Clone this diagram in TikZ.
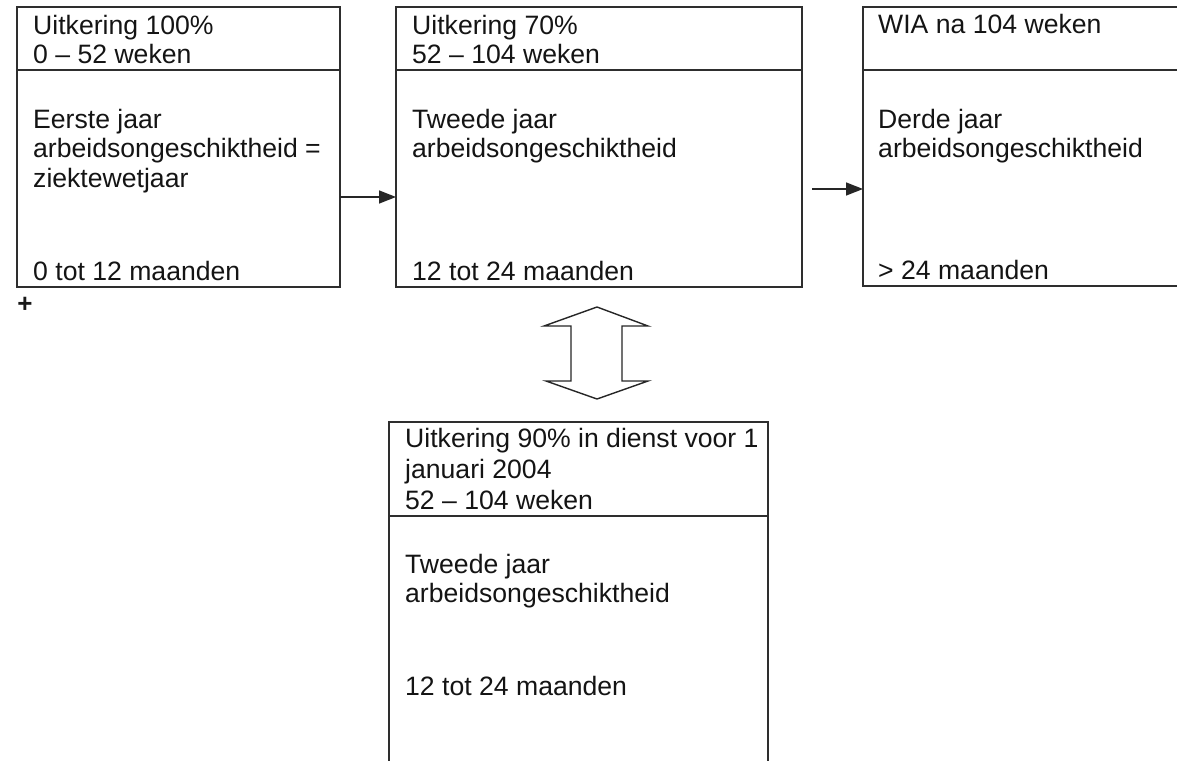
\documentclass[tikz,border=0pt]{standalone}
\usepackage{fontspec}
\setmainfont{Liberation Sans}
\usetikzlibrary{arrows.meta}
\begin{document}
\begin{tikzpicture}[x=1pt,y=-1pt,
  box/.style={draw=black!82,line width=1.4pt,inner sep=0pt,outer sep=0pt,anchor=north west},
  divider/.style={draw=black!82,line width=1.4pt},
  txt/.style={anchor=base west,inner sep=0pt,align=left,text=black!92,font=\fontsize{26.6}{29.5}\selectfont},
  conn/.style={draw=black!85,line width=1.5pt,-{Triangle[length=17pt,width=13pt]}},
  bigarrow/.style={draw=black!85,line width=1.4pt,fill=white,line join=miter}]
\useasboundingbox (0,0) rectangle (1177,760);
\clip (0,0) rectangle (1177,760);

% boxes
\node[box,minimum width=323pt,minimum height=280pt] (b1) at (17,7) {};
\node[box,minimum width=406pt,minimum height=280pt] (b2) at (396,7) {};
\node[box,minimum width=330pt,minimum height=279pt] (b3) at (863,7) {};
\node[box,minimum width=379pt,minimum height=350pt] (b4) at (389,422) {};

% dividers
\draw[divider] (b1.west |- 0,70) -- (b1.east |- 0,70);
\draw[divider] (b2.west |- 0,70) -- (b2.east |- 0,70);
\draw[divider] (b3.west |- 0,70) -- (b3.east |- 0,70);
\draw[divider] (b4.west |- 0,516) -- (b4.east |- 0,516);

% (multi-line nodes: base anchor = baseline of last line)
% box 1
\node[txt] (t1h) at (33,63.5) {Uitkering 100\%\\0 \textendash{} 52 weken};
\node[txt] (t1b) at (33,187) {Eerste jaar\\arbeidsongeschiktheid =\\ziektewetjaar};
\node[txt] (t1f) at (33,280) {0 tot 12 maanden};

% box 2
\node[txt] (t2h) at (412,63.5) {Uitkering 70\%\\52 \textendash{} 104 weken};
\node[txt] (t2b) at (412,157.5) {Tweede jaar\\arbeidsongeschiktheid};
\node[txt] (t2f) at (412,280) {12 tot 24 maanden};

% box 3
\node[txt] (t3h) at (878,34) {WIA na 104 weken};
\node[txt] (t3b) at (878,157.5) {Derde jaar\\arbeidsongeschiktheid};
\node[txt] (t3f) at (878,279) {> 24 maanden};

% box 4
\node[txt,font=\fontsize{26.6}{31}\selectfont] (t4h) at (405,509) {Uitkering 90\% in dienst voor 1\\januari 2004\\52 \textendash{} 104 weken};
\node[txt] (t4b) at (405,602.5) {Tweede jaar\\arbeidsongeschiktheid};
\node[txt] (t4f) at (405,695) {12 tot 24 maanden};

% plus sign
\node[inner sep=0pt,text=black!90,font=\bfseries\fontsize{26}{26}\selectfont] (plus) at (25,305) {+};

% arrows
\draw[conn] (b1.east |- 0,197) -- (b2.west |- 0,197);
\path (b2.east |- 0,189) ++(10,0) coordinate (a2s);
\draw[conn] (a2s) -- (b3.west |- 0,189);

% double arrow
\draw[bigarrow] (597,307) -- (648,326) -- (622,326) -- (622,381) -- (648,381)
  -- (597,399) -- (546,381) -- (571,381) -- (571,326) -- (544,326) -- cycle;
\end{tikzpicture}
\end{document}
